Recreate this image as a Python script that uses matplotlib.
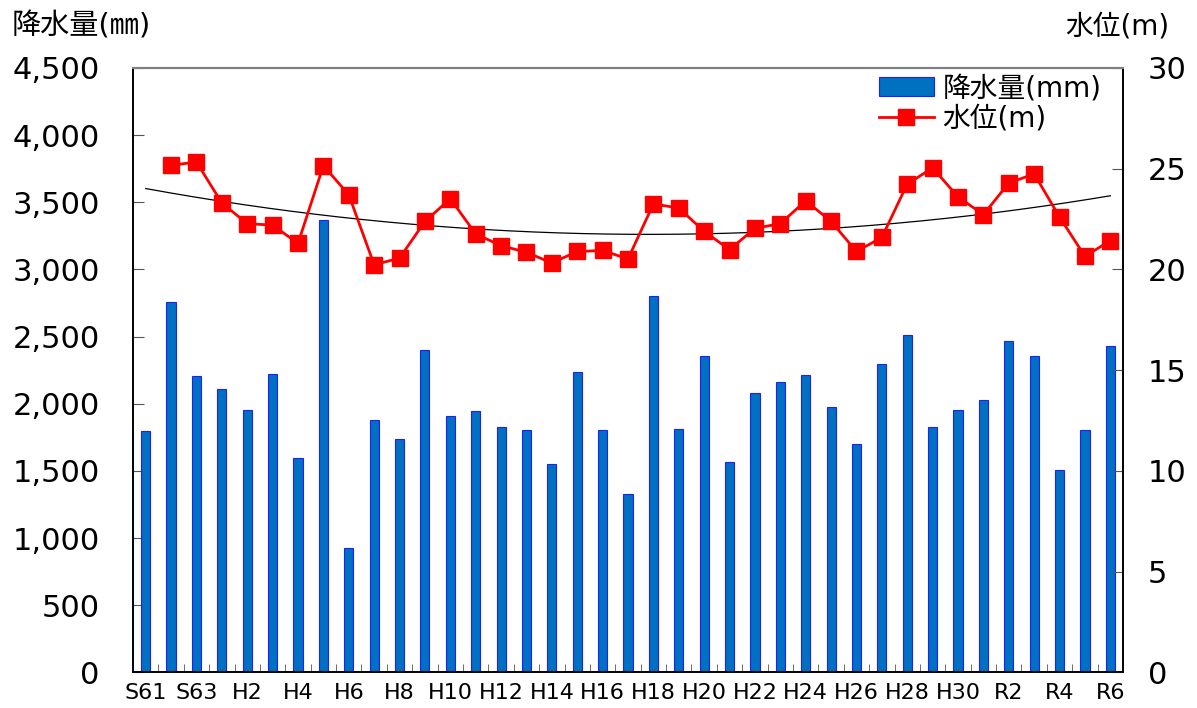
import numpy as np
import matplotlib
matplotlib.use('Agg')
import matplotlib.pyplot as plt
from matplotlib.ticker import FuncFormatter, MultipleLocator

# 欧文は DejaVu Sans、和文は Noto Sans CJK JP にフォールバック
plt.rcParams['font.family'] = ['DejaVu Sans', 'Noto Sans CJK JP']

# 年度（S61〜R6）
years = (['S61', 'S62', 'S63']
         + [f'H{i}' for i in range(1, 32)]
         + [f'R{i}' for i in range(2, 7)])

# 年間降水量（mm）
rain = [1800, 2755, 2207, 2108, 1954, 2223, 1593, 3371, 924, 1877,
        1741, 2399, 1907, 1947, 1828, 1803, 1550, 2235, 1807, 1326,
        2803, 1814, 2356, 1568, 2079, 2158, 2214, 1978, 1699, 2296,
        2511, 1824, 1952, 2028, 2469, 2354, 1505, 1804, 2431]

# 水位（m）、S61 は欠測
level = [np.nan, 25.17, 25.33, 23.30, 22.27, 22.20, 21.29, 25.15, 23.71, 20.23,
         20.56, 22.38, 23.51, 21.76, 21.18, 20.85, 20.32, 20.89, 20.94, 20.52,
         23.25, 23.05, 21.89, 20.98, 22.04, 22.27, 23.41, 22.38, 20.89, 21.59,
         24.24, 25.04, 23.60, 22.72, 24.29, 24.74, 22.60, 20.65, 21.43]

x = np.arange(len(years))
lv = np.array(level, dtype=float)

fig = plt.figure(figsize=(11.97, 7.08), dpi=100)
ax = fig.add_axes([0.1111, 0.0504, 0.8271, 0.8536])
ax2 = ax.twinx()

bars = ax.bar(x, rain, width=0.36, color='#0070C0', edgecolor='#2020FF',
              linewidth=0.8, zorder=2)

# 水位の推移
line, = ax2.plot(x, lv, color='#FF0000', lw=2.0, marker='s', ms=11, zorder=3)

# 2次の近似曲線
ok = ~np.isnan(lv)
coef = np.polyfit(x[ok], lv[ok], 2)
xs = np.linspace(x[0], x[-1], 200)
ax2.plot(xs, np.polyval(coef, xs), color='black', lw=0.9, zorder=2.5)

ax.set_xlim(-0.5, len(years) - 0.5)
ax.set_ylim(0, 4500)
ax2.set_ylim(0, 30)

ax.yaxis.set_major_locator(MultipleLocator(500))
ax.yaxis.set_major_formatter(FuncFormatter(lambda v, p: f'{int(v):,}'))
ax2.yaxis.set_major_locator(MultipleLocator(5))

ax.set_xticks(x[::2])
ax.set_xticklabels(years[::2])
ax.set_xticks(np.arange(-0.5, len(years) - 0.5, 1)[1:], minor=True)
ax.tick_params(axis='x', which='major', length=0, labelsize=16, pad=8)
ax.tick_params(axis='x', which='minor', direction='in', length=6, color='#555555')
ax.tick_params(axis='y', direction='in', length=8, labelsize=22, pad=24, color='#555555')
ax2.tick_params(axis='y', direction='in', length=8, labelsize=22, pad=18, color='#555555')

for a in (ax, ax2):
    a.spines['top'].set_color('#808080')
    a.spines['top'].set_linewidth(1.5)
    a.spines['left'].set_linewidth(1.2)
    a.spines['right'].set_linewidth(1.2)
    a.spines['bottom'].set_linewidth(1.2)

fig.text(0.01, 0.962, '降水量(㎜)', fontsize=21, ha='left', va='center')
fig.text(0.977, 0.962, '水位(m)', fontsize=20, ha='right', va='center')

ax2.legend([bars, line], ['降水量(mm)', '水位(m)'], loc='upper right',
           bbox_to_anchor=(0.998, 1.022), frameon=False, fontsize=20,
           handlelength=2.0, handletextpad=0.3, labelspacing=0.1,
           borderpad=0.2)

fig.savefig('out.png', dpi=100)
